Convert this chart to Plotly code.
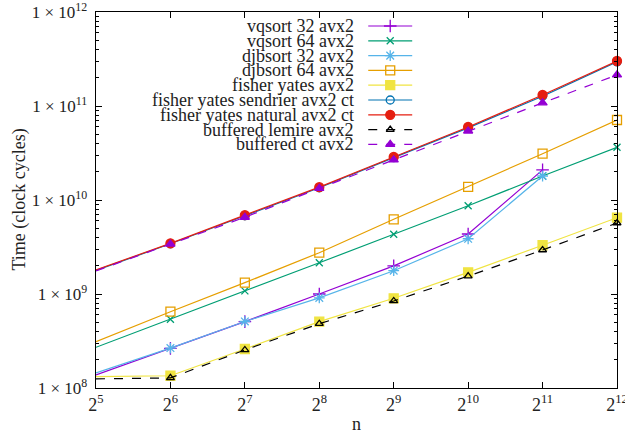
import plotly.graph_objects as go

n_values = [32, 64, 128, 256, 512, 1024, 2048, 4096]
x_exponents = [5, 6, 7, 8, 9, 10, 11, 12]

vqsort_32 = [1.38e8, 2.64e8, 5.08e8, 1.0e9, 1.99e9, 4.35e9, 2.09e10, None]
vqsort_64 = [2.71e8, 5.38e8, 1.08e9, 2.15e9, 4.32e9, 8.7e9, 1.8e10, 3.64e10]
djbsort_32 = [1.45e8, 2.66e8, 5.1e8, 9.1e8, 1.77e9, 3.87e9, 1.8e10, None]
djbsort_64 = [3.11e8, 6.48e8, 1.32e9, 2.75e9, 6.23e9, 1.38e10, 3.11e10, 7.1e10]
fisher_yates = [1.32e8, 1.35e8, 2.6e8, 5.08e8, 9.0e8, 1.7e9, 3.3e9, 6.48e9]
fy_sendrier = [1.78e9, 3.42e9, 6.8e9, 1.35e10, 2.82e10, 5.85e10, 1.27e11, 2.95e11]
fy_natural = [1.8e9, 3.46e9, 6.9e9, 1.37e10, 2.87e10, 5.98e10, 1.31e11, 3.01e11]
buffered_lemire = [1.25e8, 1.28e8, 2.54e8, 4.83e8, 8.43e8, 1.55e9, 2.94e9, 5.69e9]
buffered_ct = [1.76e9, 3.4e9, 6.55e9, 1.33e10, 2.67e10, 5.42e10, 1.08e11, 2.14e11]

series_names = [
    "vqsort 32 avx2", "vqsort 64 avx2", "djbsort 32 avx2", "djbsort 64 avx2",
    "fisher yates avx2", "fisher yates sendrier avx2 ct", "fisher yates natural avx2 ct",
    "buffered lemire avx2", "buffered ct avx2",
]
series_values = [vqsort_32, vqsort_64, djbsort_32, djbsort_64, fisher_yates,
                 fy_sendrier, fy_natural, buffered_lemire, buffered_ct]
colors = ["#9400d3", "#009e73", "#56b4e9", "#e69f00", "#f0e442",
          "#0072b2", "#e51e10", "#000000", "#9400d3"]
symbols = ["cross-thin-open", "x-thin-open", "asterisk-open", "square-open", "square",
           "circle-open", "circle", "triangle-up-open", "triangle-up"]
sizes = [9, 7, 9, 9, 9, 8, 9, 7, 8]
dashes = ["solid"] * 7 + ["dash", "dash"]

FONT = "Liberation Serif"
FS = 18
TXT = "#222222"

fig = go.Figure()
for name, vals, c, s, sz, d in zip(series_names, series_values, colors, symbols, sizes, dashes):
    fig.add_trace(go.Scatter(
        x=n_values, y=vals, mode="lines+markers", name=name,
        line=dict(color=c, width=1.2, dash=d),
        marker=dict(symbol=s, size=sz, color=c, line=dict(color=c, width=1.3)),
        showlegend=False, cliponaxis=False,
    ))

# manual gnuplot-style legend (text on the left, sample on the right)
W, H = 625, 434
L, R, T, B = 95.5, 8, 12, 46
pw, ph = W - L - R, H - T - B
row0, row_h = 26, 14.8
text_right, samp_l, samp_r = 356, 368, 412
for i, (name, c, s, sz, d) in enumerate(zip(series_names, colors, symbols, sizes, dashes)):
    yp = 1 - (row0 + i * row_h - T) / ph
    x0 = (samp_l - L) / pw
    x1 = (samp_r - L) / pw
    fig.add_trace(go.Scatter(
        x=[x0, (x0 + x1) / 2, x1], y=[yp, yp, yp], xaxis="x2", yaxis="y2",
        mode="lines", line=dict(color=c, width=1.2, dash=d), showlegend=False,
        hoverinfo="skip",
    ))
    fig.add_trace(go.Scatter(
        x=[(x0 + x1) / 2], y=[yp], xaxis="x2", yaxis="y2", mode="markers",
        marker=dict(symbol=s, size=sz, color=c, line=dict(color=c, width=1.3)),
        showlegend=False, hoverinfo="skip",
    ))
    fig.add_annotation(
        x=(text_right - L) / pw, y=yp, xref="x2", yref="y2", text=name,
        showarrow=False, xanchor="right", yanchor="middle",
        font=dict(family=FONT, size=FS, color=TXT),
    )

# y-axis title placed like gnuplot's
fig.add_annotation(
    x=0, y=0.5, xref="paper", yref="paper", text="Time (clock cycles)",
    textangle=-90, showarrow=False, xanchor="center", yanchor="middle",
    xshift=18 - L, font=dict(family=FONT, size=FS, color=TXT),
)

fig.update_layout(
    width=W, height=H,
    margin=dict(l=L, r=R, t=T, b=B, autoexpand=False),
    plot_bgcolor="white", paper_bgcolor="white",
    font=dict(family=FONT, size=FS, color=TXT),
    xaxis=dict(
        type="log", range=[1.50515, 3.61236],
        tickvals=n_values,
        ticktext=[f"2<sup>{e}</sup>" for e in x_exponents],
        ticks="inside", ticklen=6, tickcolor="black", ticklabeloverflow="allow",
        showline=True, linecolor="black", linewidth=1.2, mirror="allticks",
        showgrid=False, zeroline=False,
        title=dict(text="n", standoff=4, font=dict(size=FS)),
    ),
    yaxis=dict(
        type="log", range=[8, 12],
        tickvals=[1e8, 1e9, 1e10, 1e11, 1e12],
        ticktext=[f"1 × 10<sup>{e}</sup>\u00a0" for e in range(8, 13)],
        tickfont=dict(size=17),
        ticks="inside", ticklen=6, tickcolor="black", ticklabeloverflow="allow",
        minor=dict(ticks="inside", ticklen=3, dtick="D1", tickcolor="black", showgrid=False),
        showline=True, linecolor="black", linewidth=1.2, mirror="allticks",
        showgrid=False, zeroline=False,
    ),
    xaxis2=dict(range=[0, 1], overlaying="x", visible=False, fixedrange=True),
    yaxis2=dict(range=[0, 1], overlaying="y", visible=False, fixedrange=True),
)

fig.write_html(
    "out.html",
    config={"displayModeBar": False},
    post_script="document.body.style.margin='0';document.body.style.overflow='hidden';",
)
